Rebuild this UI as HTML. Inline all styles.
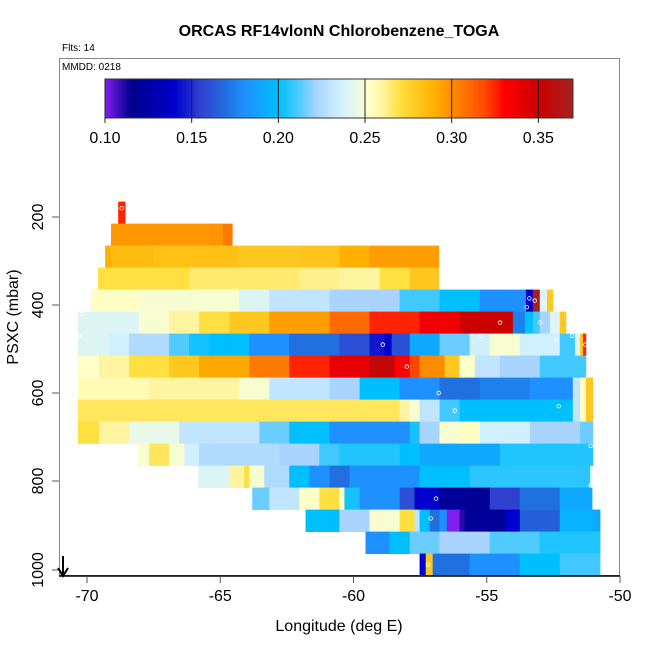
<!DOCTYPE html>
<html><head><meta charset="utf-8"><style>
body{margin:0;background:#fff;}
svg{display:block;font-family:"Liberation Sans",sans-serif;}
</style></head><body>
<svg id="chart" width="650" height="650" viewBox="0 0 650 650">
<text x="339" y="36" text-anchor="middle" font-size="16" font-weight="bold">ORCAS RF14vlonN Chlorobenzene_TOGA</text>
<text x="62" y="51" font-size="10">Flts: 14</text>
<g id="cells"></g>
<g id="marks"></g>
<rect x="59.5" y="58.5" width="560" height="517" fill="none" stroke="#888"/>
<line x1="59" y1="576" x2="620" y2="576" stroke="#000" stroke-width="1.5"/>
<text x="62" y="70" font-size="10">MMDD: 0218</text>
<g id="cbar"></g>
<g id="xaxis"></g>
<g id="yaxis"></g>
<text x="339" y="631" text-anchor="middle" font-size="16">Longitude (deg E)</text>
<text transform="translate(18,317) rotate(-90)" text-anchor="middle" font-size="16">PSXC (mbar)</text>
<g><line x1="63" y1="556" x2="63" y2="575" stroke="#000" stroke-width="2"/><polyline points="58,568 63,576 68,568" fill="none" stroke="#000" stroke-width="2"/></g>
</svg>
<script>
const xTicks=[-70,-65,-60,-55,-50];
const yTicks=[200,400,600,800,1000];
const cbTicks=[0.10,0.15,0.20,0.25,0.30,0.35];
const rowPressures=[190,240,290,340,390,440,490,540,590,640,690,740,790,840,890,940,990];
const rowBreaks=[
[-68.83,-68.57],
[-69.10,-65.40,-64.90,-64.55],
[-69.32,-69.10,-67.50,-64.30,-62.03,-60.53,-59.40,-56.80],
[-69.59,-66.17,-62.03,-60.53,-59.02,-57.89,-56.80],
[-69.85,-68.05,-64.29,-63.16,-60.90,-58.27,-56.77,-55.26,-53.53,-53.27,-53.01,-52.74,-52.52],
[-70.34,-68.05,-66.92,-65.79,-64.66,-63.16,-60.90,-59.40,-57.52,-56.02,-54.02,-53.57,-53.27,-53.01,-52.63,-52.26,-52.03],
[-70.34,-69.17,-68.42,-66.92,-66.17,-65.41,-63.91,-62.41,-60.53,-59.40,-58.83,-58.57,-57.89,-56.77,-55.64,-54.89,-53.76,-52.26,-51.69,-51.50,-51.39,-51.28],
[-70.34,-69.55,-68.42,-66.92,-65.79,-63.91,-62.41,-60.90,-59.40,-58.46,-57.89,-57.52,-56.58,-56.02,-55.45,-54.51,-53.01,-51.28],
[-70.34,-67.67,-64.29,-63.16,-60.90,-59.77,-58.27,-56.77,-55.26,-53.38,-51.77,-51.50,-51.28,-51.02],
[-70.34,-58.27,-57.89,-57.52,-56.77,-56.02,-51.77,-51.50,-51.28,-51.02],
[-70.34,-69.55,-68.42,-66.54,-63.53,-62.41,-60.90,-57.89,-57.52,-56.77,-56.02,-55.26,-53.38,-51.50,-51.02],
[-68.08,-67.67,-66.92,-66.35,-65.79,-62.78,-61.28,-60.53,-58.27,-57.52,-54.51,-51.02],
[-65.83,-64.66,-64.10,-63.91,-63.35,-62.41,-61.65,-60.90,-60.15,-57.52,-55.64,-51.13],
[-63.80,-63.16,-62.03,-61.28,-60.53,-60.34,-59.77,-58.27,-57.71,-56.77,-54.89,-53.76,-52.26,-51.05],
[-61.80,-60.53,-59.40,-58.27,-57.71,-57.52,-57.14,-56.77,-56.50,-56.02,-55.83,-54.32,-53.76,-52.26,-51.02,-50.75],
[-59.55,-58.65,-57.89,-56.77,-54.89,-53.01,-50.75],
[-57.52,-57.29,-57.03,-55.64,-53.76,-52.26,-50.75]
];
const rowValues=[
[0.325],
[0.297,0.298,0.305],
[0.29,0.285,0.283,0.28,0.282,0.29,0.295],
[0.27,0.265,0.262,0.26,0.27,0.28],
[0.253,0.25,0.24,0.23,0.222,0.21,0.20,0.18,0.14,0.37,0.24,0.28],
[0.24,0.25,0.26,0.27,0.28,0.295,0.31,0.325,0.335,0.35,0.175,0.20,0.21,0.222,0.24,0.28],
[0.24,0.235,0.225,0.212,0.203,0.20,0.18,0.17,0.16,0.145,0.14,0.16,0.19,0.215,0.235,0.25,0.235,0.21,0.24,0.28,0.325],
[0.252,0.26,0.27,0.28,0.292,0.305,0.325,0.34,0.355,0.33,0.32,0.30,0.28,0.252,0.23,0.222,0.21],
[0.256,0.26,0.25,0.23,0.222,0.20,0.18,0.17,0.175,0.18,0.23,0.252,0.28],
[0.267,0.26,0.25,0.23,0.21,0.20,0.23,0.252,0.28],
[0.27,0.26,0.245,0.23,0.215,0.20,0.18,0.203,0.222,0.25,0.253,0.235,0.222,0.215],
[0.25,0.267,0.25,0.235,0.225,0.222,0.21,0.205,0.20,0.19,0.205],
[0.24,0.26,0.27,0.25,0.225,0.20,0.18,0.17,0.18,0.20,0.207],
[0.215,0.23,0.252,0.27,0.252,0.203,0.18,0.16,0.14,0.12,0.155,0.17,0.19],
[0.20,0.222,0.25,0.27,0.23,0.20,0.17,0.18,0.10,0.11,0.12,0.14,0.165,0.195,0.19],
[0.18,0.20,0.215,0.222,0.212,0.205],
[0.14,0.28,0.17,0.18,0.20,0.21]
];
const markLon=[-68.7,-70.2,-70.3,-53.4,-53.2,-53.5,-52.9,-53.0,-54.5,-52.4,-51.8,-51.3,-58.9,-55.2,-58.0,-56.8,-51.2,-56.2,-56.7,-52.3,-51.1,-51.1,-56.9,-57.1,-57.2];
const markP=[180,420,470,385,390,405,395,440,440,480,470,490,490,470,540,600,560,640,700,630,720,810,840,885,990];

const svg=document.getElementById('chart');
const NS='http://www.w3.org/2000/svg';
const X0=87,X1=620,Y200=217,YPER=0.44;
function xs(lon){return X0+(lon+70)*(X1-X0)/20;}
function ys(p){return Y200+(p-200)*YPER;}
const stops=[[0.10,[128,32,240]],[0.115,[0,0,139]],[0.14,[0,0,205]],[0.155,[48,64,208]],[0.17,[32,112,224]],[0.18,[30,144,255]],[0.20,[0,191,255]],[0.21,[64,200,255]],[0.222,[168,212,255]],[0.235,[208,240,255]],[0.245,[232,248,232]],[0.252,[255,255,200]],[0.26,[255,244,160]],[0.27,[255,224,64]],[0.28,[255,200,32]],[0.29,[255,176,0]],[0.30,[255,140,0]],[0.31,[255,106,0]],[0.32,[255,69,0]],[0.33,[255,0,0]],[0.35,[205,0,0]],[0.37,[165,32,32]]];
function col(v){
 if(v<=stops[0][0])return 'rgb('+stops[0][1]+')';
 for(let i=1;i<stops.length;i++){if(v<=stops[i][0]){const a=stops[i-1],b=stops[i],t=(v-a[0])/(b[0]-a[0]);
 return 'rgb('+a[1].map((c,k)=>Math.round(c+(b[1][k]-c)*t)).join(',')+')';}}
 return 'rgb('+stops[stops.length-1][1]+')';}
const cells=document.getElementById('cells');
rowPressures.forEach((p,r)=>{
 const b=rowBreaks[r],v=rowValues[r];
 for(let i=0;i<v.length;i++){
  const e=document.createElementNS(NS,'rect');
  const x=xs(b[i]),w=xs(b[i+1])-x;
  e.setAttribute('x',x);e.setAttribute('y',ys(p-25));e.setAttribute('width',w+0.4);e.setAttribute('height',YPER*50+0.4);
  e.setAttribute('fill',col(v[i]));
  
  
  cells.appendChild(e);
 }
});
const marks=document.getElementById('marks');
markLon.forEach((l,i)=>{
 const c=document.createElementNS(NS,'circle');
 c.setAttribute('cx',xs(l));c.setAttribute('cy',ys(markP[i]));c.setAttribute('r',1.8);
 c.setAttribute('fill','none');c.setAttribute('stroke','#fff');c.setAttribute('stroke-width','0.8');
 
 
 marks.appendChild(c);
});
// colorbar
const cb=document.getElementById('cbar');
const CB0=105,CB1=573,VMIN=0.10,VMAX=0.37;
function cx(v){return CB0+(v-VMIN)*(CB1-CB0)/(VMAX-VMIN);}
for(let x=CB0;x<CB1;x+=2){
 const r=document.createElementNS(NS,'rect');
 r.setAttribute('x',x);r.setAttribute('y',79);r.setAttribute('width',2.3);r.setAttribute('height',39);
 r.setAttribute('fill',col(VMIN+(x+1-CB0)/(CB1-CB0)*(VMAX-VMIN)));
 
 
 cb.appendChild(r);
}
const cbf=document.createElementNS(NS,'rect');
cbf.setAttribute('x',CB0);cbf.setAttribute('y',79);cbf.setAttribute('width',CB1-CB0);cbf.setAttribute('height',39);
cbf.setAttribute('fill','none');cbf.setAttribute('stroke','#333');


cb.appendChild(cbf);
cbTicks.forEach(v=>{
 const l=document.createElementNS(NS,'line');
 l.setAttribute('x1',cx(v));l.setAttribute('x2',cx(v));l.setAttribute('y1',79);l.setAttribute('y2',123);l.setAttribute('stroke','#222');
 
 
 cb.appendChild(l);
 const t=document.createElementNS(NS,'text');
 t.setAttribute('x',cx(v));t.setAttribute('y',143);t.setAttribute('text-anchor','middle');t.setAttribute('font-size','16');
 t.textContent=v.toFixed(2);
 
 
 cb.appendChild(t);
});
const xa=document.getElementById('xaxis');
xTicks.forEach(v=>{
 const l=document.createElementNS(NS,'line');
 l.setAttribute('x1',xs(v));l.setAttribute('x2',xs(v));l.setAttribute('y1',576);l.setAttribute('y2',583);l.setAttribute('stroke','#555');
 
 
 xa.appendChild(l);
 const t=document.createElementNS(NS,'text');
 t.setAttribute('x',xs(v));t.setAttribute('y',601);t.setAttribute('text-anchor','middle');t.setAttribute('font-size','16');
 t.textContent=v;
 
 
 xa.appendChild(t);
});
const ya=document.getElementById('yaxis');
yTicks.forEach(v=>{
 const y=v===1000?570:ys(v);
 const l=document.createElementNS(NS,'line');
 l.setAttribute('x1',52);l.setAttribute('x2',59);l.setAttribute('y1',y);l.setAttribute('y2',y);l.setAttribute('stroke','#555');
 
 
 ya.appendChild(l);
 const t=document.createElementNS(NS,'text');
 t.setAttribute('transform','translate(43,'+y+') rotate(-90)');t.setAttribute('text-anchor','middle');t.setAttribute('font-size','16');
 t.textContent=v;
 
 
 ya.appendChild(t);
});
</script>
</body></html>
